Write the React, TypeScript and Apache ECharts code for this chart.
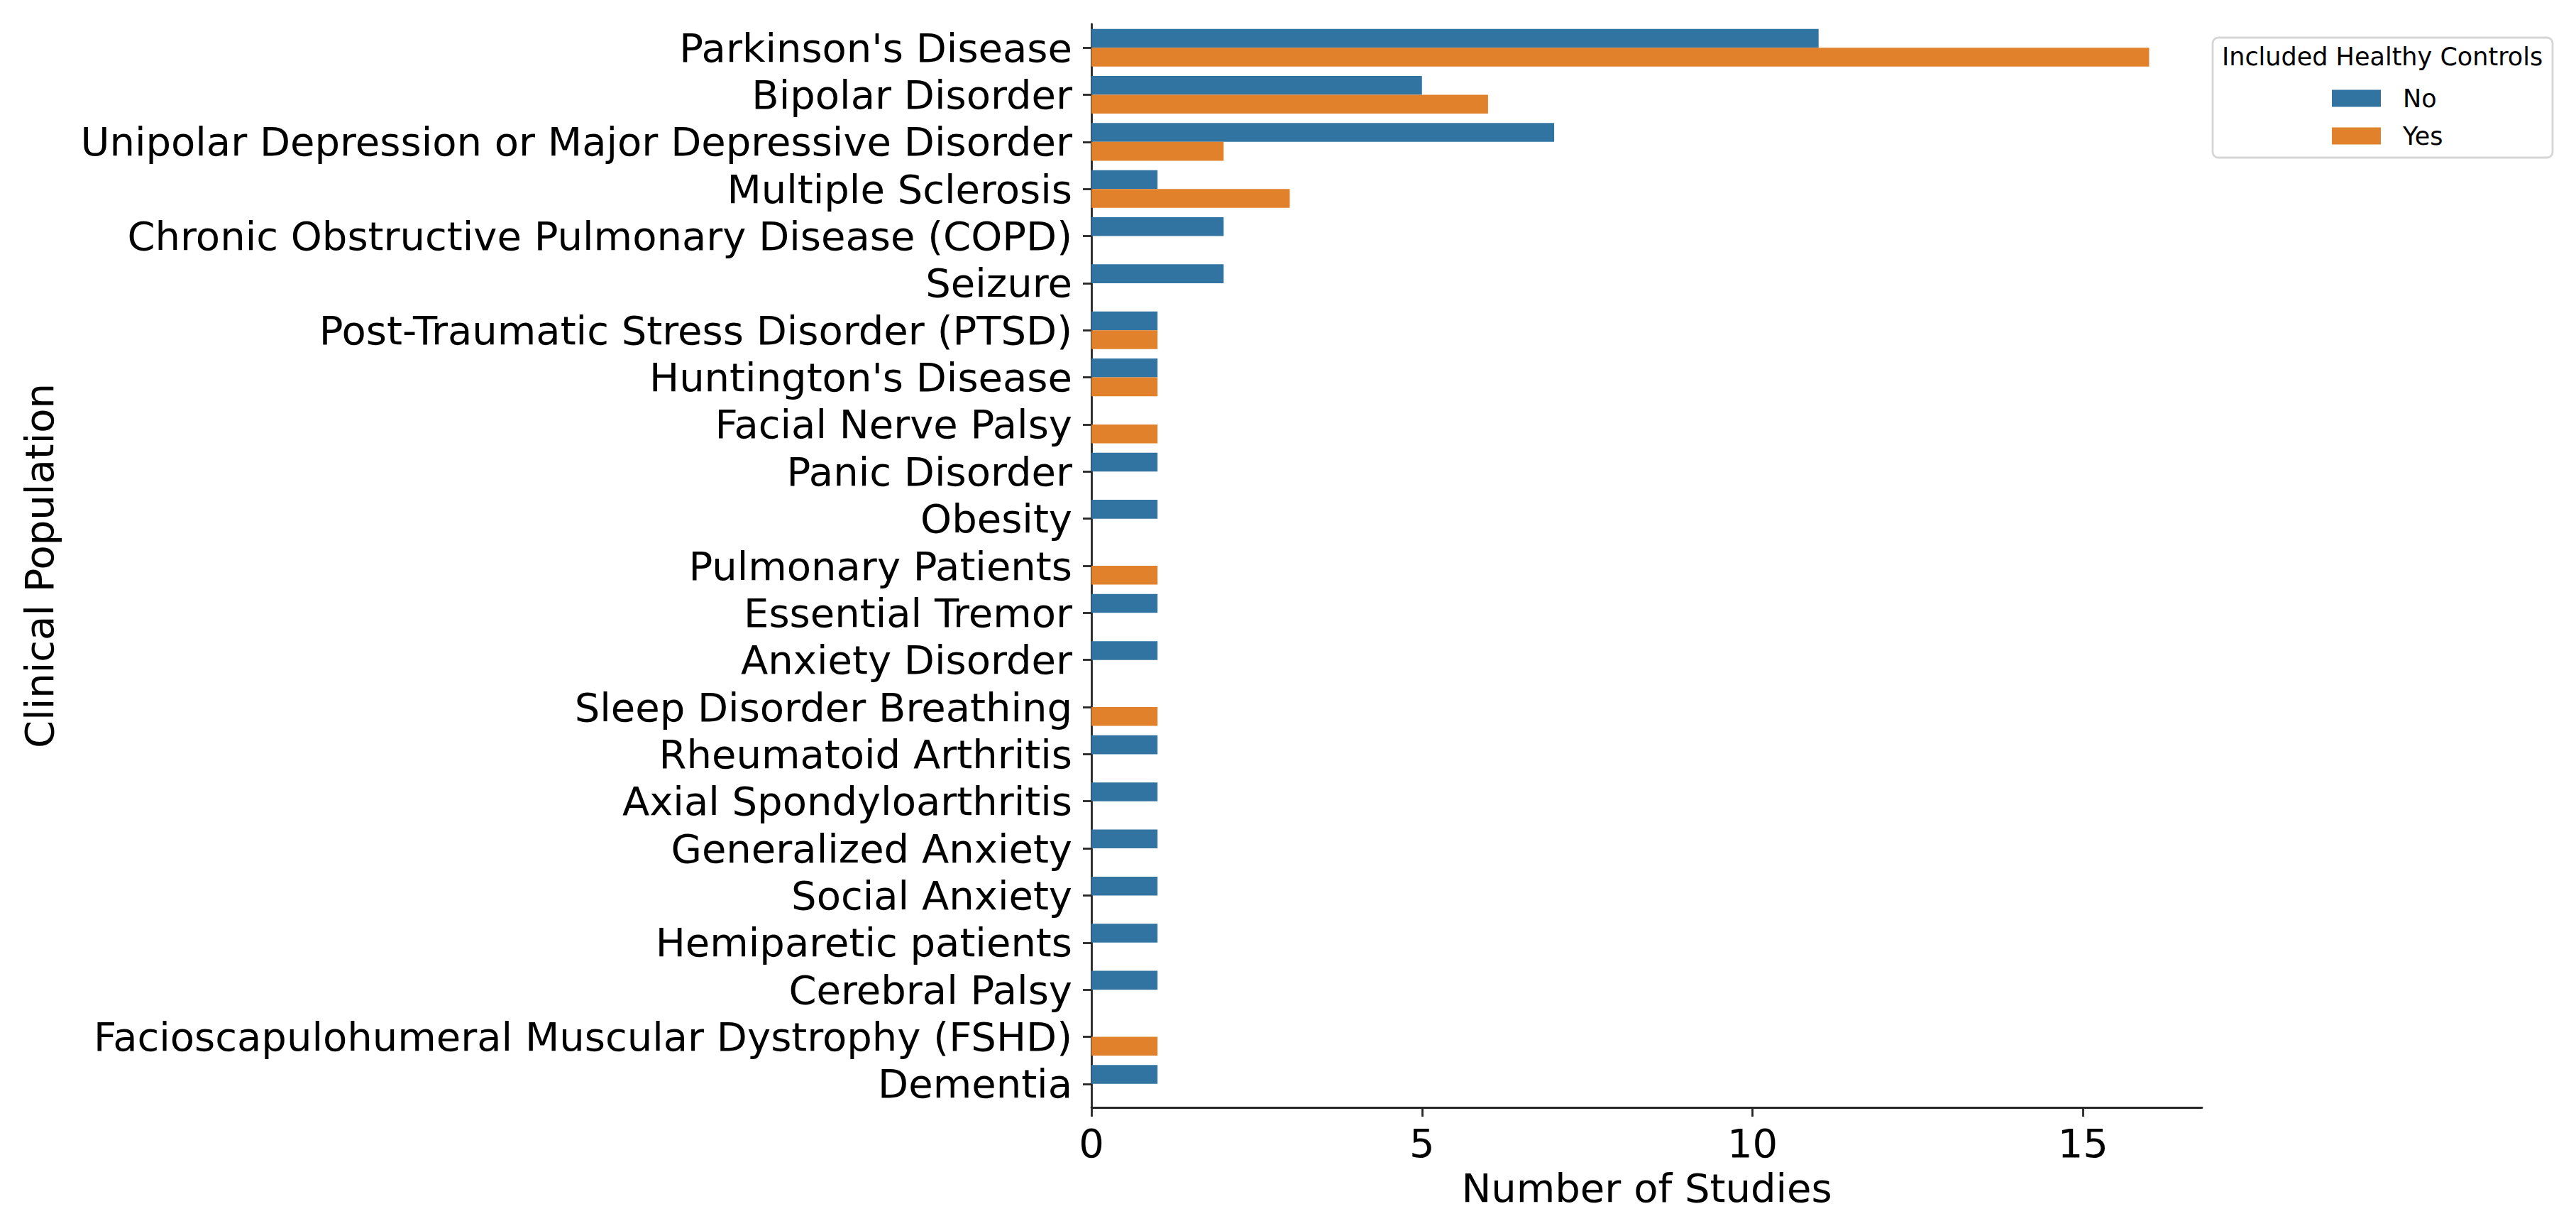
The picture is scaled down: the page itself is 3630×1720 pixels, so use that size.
import React, { useEffect, useRef } from "react";
import * as echarts from "echarts";

const categories = [
  "Parkinson's Disease",
  "Bipolar Disorder",
  "Unipolar Depression or Major Depressive Disorder",
  "Multiple Sclerosis",
  "Chronic Obstructive Pulmonary Disease (COPD)",
  "Seizure",
  "Post-Traumatic Stress Disorder (PTSD)",
  "Huntington's Disease",
  "Facial Nerve Palsy",
  "Panic Disorder",
  "Obesity",
  "Pulmonary Patients",
  "Essential Tremor",
  "Anxiety Disorder",
  "Sleep Disorder Breathing",
  "Rheumatoid Arthritis",
  "Axial Spondyloarthritis",
  "Generalized Anxiety",
  "Social Anxiety",
  "Hemiparetic patients",
  "Cerebral Palsy",
  "Facioscapulohumeral Muscular Dystrophy (FSHD)",
  "Dementia",
];

const noValues = [11, 5, 7, 1, 2, 2, 1, 1, 0, 1, 1, 0, 1, 1, 0, 1, 1, 1, 1, 1, 1, 0, 1];
const yesValues = [16, 6, 2, 3, 0, 0, 1, 1, 1, 0, 0, 1, 0, 0, 1, 0, 0, 0, 0, 0, 0, 1, 0];

const xTicks = [0, 5, 10, 15];
const seriesNames = ["No", "Yes"];
const legendTitle = "Included Healthy Controls";

const FONT = "DejaVu Sans";

export default function App() {
  const ref = useRef<HTMLDivElement>(null);

  useEffect(() => {
    document.body.style.margin = "0";
    if (!ref.current) return;
    const chart = echarts.init(ref.current, null, { renderer: "svg" });
    const textColor = "#000000";
    const lineColor = "#262626";
    chart.setOption({
      animation: false,
      backgroundColor: "#ffffff",
      textStyle: { fontFamily: FONT },
      grid: { left: 1538, top: 34, right: 527, bottom: 160, containLabel: false },
      xAxis: {
        type: "value",
        min: 0,
        max: 16.8,
        interval: 5,
        name: "Number of Studies",
        nameLocation: "middle",
        nameGap: 85,
        nameTextStyle: { fontSize: 56, color: textColor, fontFamily: FONT },
        axisLine: { show: true, lineStyle: { color: lineColor, width: 2.8 } },
        axisTick: {
          show: true,
          length: 13,
          lineStyle: { color: lineColor, width: 2.8 },
          customValues: xTicks,
        },
        axisLabel: {
          fontSize: 56,
          color: textColor,
          margin: 22,
          fontFamily: FONT,
          customValues: xTicks,
        },
        splitLine: { show: false },
      },
      yAxis: {
        type: "category",
        data: categories,
        inverse: true,
        name: "Clinical Population",
        nameLocation: "middle",
        nameRotate: 90,
        nameGap: 1455,
        nameTextStyle: { fontSize: 56, color: textColor, fontFamily: FONT },
        axisLine: { show: true, lineStyle: { color: lineColor, width: 2.8 } },
        axisTick: {
          show: true,
          alignWithLabel: true,
          length: 12,
          lineStyle: { color: lineColor, width: 2.8 },
        },
        axisLabel: {
          fontSize: 56,
          color: textColor,
          margin: 27,
          fontFamily: FONT,
          interval: 0,
        },
        splitLine: { show: false },
      },
      legend: {
        orient: "vertical",
        left: 3281,
        top: 116,
        itemWidth: 69,
        itemHeight: 24,
        itemGap: 18,
        icon: "rect",
        z: 10,
        data: seriesNames,
        textStyle: {
          fontSize: 35,
          color: textColor,
          fontFamily: FONT,
          padding: [0, 0, 0, 26],
        },
      },
      graphic: [
        {
          type: "rect",
          z: 1,
          shape: { x: 3118, y: 53, width: 479, height: 169, r: 8 },
          style: { fill: "rgba(255,255,255,0.8)", stroke: "#d6d6d6", lineWidth: 2.8 },
        },
        {
          type: "text",
          z: 2,
          x: 3357,
          y: 80,
          style: {
            text: legendTitle,
            fontSize: 35,
            fontFamily: FONT,
            fill: textColor,
            align: "center",
            verticalAlign: "middle",
          },
        },
      ],
      series: [
        {
          name: seriesNames[0],
          type: "bar",
          data: noValues,
          barGap: "0%",
          barCategoryGap: "20%",
          itemStyle: { color: "#3274A1" },
        },
        {
          name: seriesNames[1],
          type: "bar",
          data: yesValues,
          barGap: "0%",
          barCategoryGap: "20%",
          itemStyle: { color: "#E1812C" },
        },
      ],
    });
    return () => chart.dispose();
  }, []);

  return (
    <div
      ref={ref}
      style={{ position: "absolute", left: 0, top: 0, width: 3630, height: 1720 }}
    />
  );
}
